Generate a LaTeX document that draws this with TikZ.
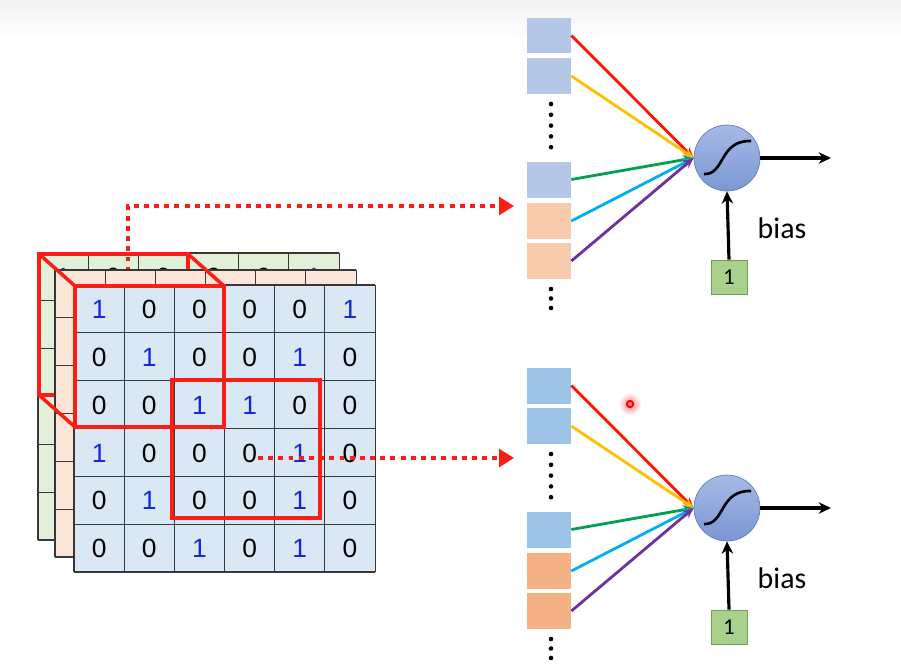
\documentclass[tikz,border=0pt]{standalone}
\usepackage{fontspec}
\setmainfont{Liberation Sans}
\newfontfamily\calfont{Carlito}
\usetikzlibrary{arrows.meta, calc}
\definecolor{frontcol}{RGB}{218,231,245}
\definecolor{midcol}{RGB}{251,229,214}
\definecolor{backcol}{RGB}{226,240,217}
\definecolor{onecol}{RGB}{20,40,215}
\definecolor{gridcol}{RGB}{55,55,55}
\definecolor{boxred}{RGB}{250,30,20}
\definecolor{inblueA}{RGB}{180,199,231}
\definecolor{inorangeA}{RGB}{248,203,173}
\definecolor{inblueB}{RGB}{157,195,230}
\definecolor{inorangeB}{RGB}{244,177,131}
\definecolor{wred}{RGB}{255,20,0}
\definecolor{wyellow}{RGB}{255,192,0}
\definecolor{wgreen}{RGB}{0,160,80}
\definecolor{wcyan}{RGB}{0,176,240}
\definecolor{wpurple}{RGB}{112,48,160}
\definecolor{sigtop}{RGB}{165,186,230}
\definecolor{sigbot}{RGB}{122,150,212}
\definecolor{sigline}{RGB}{95,125,195}
\definecolor{biasfill}{RGB}{169,209,142}
\definecolor{biasline}{RGB}{112,160,80}
\tikzset{
  digit/.style={font=\fontsize{15}{16}\selectfont, inner sep=0pt},
  d0/.style={text=black},
  d1/.style={text=onecol},
  cubeline/.style={draw=boxred, line width=2pt, line join=miter},
  tapline/.style={draw=boxred, line width=2.8pt, dash pattern=on 2.8pt off 3pt,
    -{Triangle[length=8.5pt,width=10pt]}},
  inbox/.style={rectangle, minimum width=0.88cm, minimum height=0.72cm, inner sep=0pt},
  sig/.style={circle, minimum size=1.32cm, draw=sigline, thin,
    top color=sigtop, bottom color=sigbot, inner sep=0pt},
  biasbox/.style={rectangle, minimum width=0.72cm, minimum height=0.68cm,
    fill=biasfill, draw=biasline, font=\calfont\fontsize{13}{14}\selectfont, inner sep=0pt},
  warr/.style={line width=1.6pt, -{Stealth[length=6pt,width=5pt]}},
  blackarr/.style={line width=1.8pt, -{Stealth[length=7pt,width=6.5pt]}},
}
% one 6x6 feature map: name, shift x, shift y, fill
\newcommand{\gridlayer}[4]{%
  \begin{scope}[shift={(#2,#3)}]
    \fill[#4] (74,285) rectangle (375,572);
    \foreach \k in {0,...,6} {
      \draw[gridcol, line width=0.6pt] (74+\k*50.17,285) -- ++(0,287);
      \draw[gridcol, line width=0.6pt] (74,285+\k*47.83) -- ++(301,0);
    }
    \foreach \row [count=\r from 0] in {{1,0,0,0,0,1},{0,1,0,0,1,0},{0,0,1,1,0,0},
        {1,0,0,0,1,0},{0,1,0,0,1,0},{0,0,1,0,1,0}} {
      \foreach \v [count=\c from 0] in \row
        \node[digit, d\v] (#1-\r-\c) at (99.1+\c*50.17, 309.5+\r*47.83) {\v};
    }
  \end{scope}}

\begin{document}
\begin{tikzpicture}[x=0.02cm, y=-0.02cm]
  \useasboundingbox (0,0) rectangle (901,663);
  \shade[top color=gray!10, bottom color=white] (0,0) rectangle (901,40);

  % back map and hidden face of the cube
  \gridlayer{bk}{-36}{-32}{backcol}
  \draw[cubeline] (39,254) rectangle (188,395);
  \coordinate (tapA) at (128,292);
  \coordinate (bendA) at (128,206);
  \coordinate (tipA) at (514,206);
  \draw[tapline] (tapA) -- (bendA) -- (tipA);

  % middle and front maps
  \gridlayer{md}{-19}{-15}{midcol}
  \gridlayer{fr}{0}{0}{frontcol}

  % receptive fields
  \draw[cubeline] (75,286) rectangle (224,427);
  \draw[cubeline] (39,254) -- (75,286);
  \draw[cubeline] (188,254) -- (224,286);
  \draw[cubeline] (39,395) -- (75,427);
  \draw[cubeline] (172,380) rectangle (320,518);
  \coordinate (tapB) at (258,458);
  \coordinate (tipB) at (514,458);
  \draw[tapline] (tapB) -- (tipB);

  % neurons
  \foreach \u/\dy/\bc/\oc in {A/0/inblueA/inorangeA, B/350/inblueB/inorangeB} {
    \node[inbox, fill=\bc] (in\u1) at (549,35.5+\dy) {};
    \node[inbox, fill=\bc] (in\u2) at (549,76+\dy) {};
    \node[inbox, fill=\bc] (in\u3) at (549,179.5+\dy) {};
    \node[inbox, fill=\oc] (in\u4) at (549,221+\dy) {};
    \node[inbox, fill=\oc] (in\u5) at (549,261+\dy) {};
    \foreach \k in {0,...,4}
      \fill (551,104+\dy+\k*10.8) circle[radius=1.3pt];
    \foreach \k in {0,1,2}
      \fill (551,289+\dy+\k*9.5) circle[radius=1.3pt];

    \node[sig] (sig\u) at (727,158+\dy) {};
    \draw[line width=1.5pt, shift={(sig\u.center)}]
      (-23,16) .. controls (-2,17) and (-8,-18) .. (24,-17);

    \draw[warr, wred]    (in\u1.east) -- (sig\u.west);
    \draw[warr, wyellow] (in\u2.east) -- (sig\u.west);
    \draw[warr, wgreen]  (in\u3.east) -- (sig\u.west);
    \draw[warr, wcyan]   (in\u4.east) -- (sig\u.west);
    \draw[warr, wpurple] (in\u5.east) -- (sig\u.west);

    \coordinate (out\u) at (831,158+\dy);
    \draw[blackarr] (sig\u.east) -- (out\u);
    \node[biasbox] (bias\u) at (729,277+\dy) {1};
    \draw[blackarr] (bias\u.north) -- (sig\u.south);
    \node[font=\calfont\fontsize{17}{18}\selectfont] (lbl\u) at (782,228+\dy) {bias};
  }

  % pointer spot
  \shade[inner color=red!50, outer color=white] (630,404) circle[radius=6.5pt];
  \draw[red, line width=1.1pt] (630,404) circle[radius=1.8pt];
\end{tikzpicture}
\end{document}
